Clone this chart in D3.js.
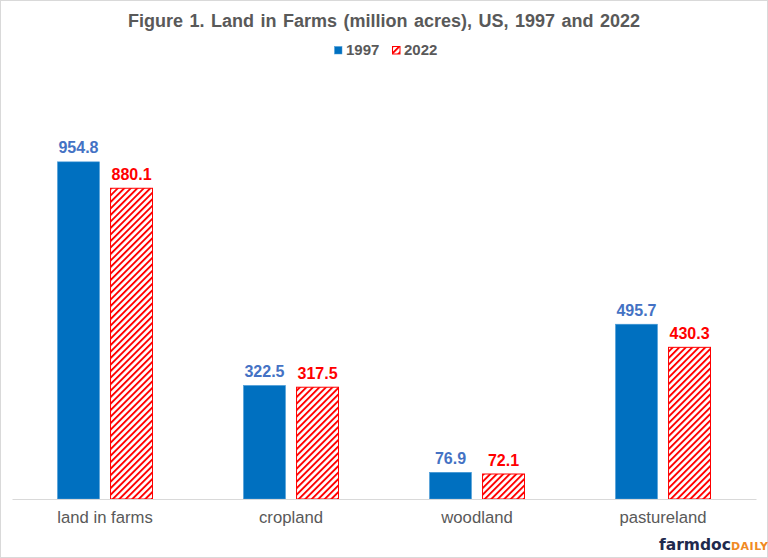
<!DOCTYPE html>
<html>
<head>
<meta charset="utf-8">
<script src="https://cdn.jsdelivr.net/npm/d3@7"></script>
<style>
  body { margin: 0; background: #fff; }
  svg { display: block; font-family: "Liberation Sans", Arial, sans-serif; }
</style>
</head>
<body>
<svg id="chart" width="768" height="558"></svg>
<script>
// data
const categories = ["land in farms", "cropland", "woodland", "pastureland"];
const seriesNames = ["1997", "2022"];
const values1997 = [954.8, 322.5, 76.9, 495.7];
const values2022 = [880.1, 317.5, 72.1, 430.3];

const W = 768, H = 558;
const svg = d3.select("#chart");

// outer frame
svg.append("rect")
  .attr("x", 0.5).attr("y", 0.5)
  .attr("width", W - 1).attr("height", H - 1)
  .attr("fill", "#fff").attr("stroke", "#d9d9d9");

// hatch pattern for 2022 (red diagonals on white)
const defs = svg.append("defs");
const pat = defs.append("pattern")
  .attr("id", "hatch")
  .attr("patternUnits", "userSpaceOnUse")
  .attr("width", 4.6).attr("height", 4.6)
  .attr("patternTransform", "rotate(45)");
pat.append("rect").attr("width", 4.6).attr("height", 4.6).attr("fill", "#fff");
pat.append("rect").attr("x", 0).attr("width", 1.9).attr("height", 4.6).attr("fill", "#ff0000");

const x0 = d3.scaleBand().domain(categories).range([12, 756]);
const x1 = d3.scaleBand().domain(seriesNames).range([45, 141]).paddingInner(0.19).paddingOuter(0);
const y = d3.scaleLinear().domain([0, 1100]).range([499, 110]);

const rows = categories.map((c, i) => ({ cat: c, vals: [values1997[i], values2022[i]] }));

const groups = svg.append("g").selectAll("g")
  .data(rows).join("g")
  .attr("transform", d => `translate(${x0(d.cat)},0)`);

const fills = ["#0070c0", "url(#hatch)"];
const strokes = ["#4a9bd8", "#ff0000"];
const labelColors = ["#4472c4", "#ff0000"];

groups.selectAll("rect")
  .data(d => d.vals.map((v, j) => ({ v, j })))
  .join("rect")
  .attr("x", d => x1(seriesNames[d.j]) + 0.5)
  .attr("y", d => y(d.v) + 0.5)
  .attr("width", x1.bandwidth() - 1)
  .attr("height", d => y(0) - y(d.v) - 0.5)
  .attr("fill", d => fills[d.j])
  .attr("stroke", d => strokes[d.j])
  .attr("stroke-width", d => d.j === 0 ? 0.6 : 1);

groups.selectAll("text.val")
  .data(d => d.vals.map((v, j) => ({ v, j })))
  .join("text")
  .attr("class", "val")
  .attr("x", d => x1(seriesNames[d.j]) + x1.bandwidth() / 2)
  .attr("y", d => y(d.v) - 8)
  .attr("text-anchor", "middle")
  .attr("font-size", 16)
  .attr("font-weight", "bold")
  .attr("fill", d => labelColors[d.j])
  .text(d => d.v.toFixed(1));

// x axis
const xAxis = svg.append("g")
  .attr("transform", `translate(0,${y(0)})`)
  .call(d3.axisBottom(x0).tickSize(0).tickPadding(12));
xAxis.select(".domain").attr("stroke", "#d9d9d9").attr("stroke-width", 1.2);
xAxis.selectAll("text")
  .attr("font-size", 16.7)
  .attr("font-family", "Liberation Sans, Arial, sans-serif")
  .attr("fill", "#595959");

// title
svg.append("text")
  .attr("x", 384).attr("y", 27)
  .attr("text-anchor", "middle")
  .attr("font-size", 18)
  .attr("font-weight", "bold")
  .attr("word-spacing", 1.5)
  .attr("fill", "#595959")
  .text("Figure  1. Land in Farms (million acres), US, 1997 and 2022");

// legend
const legend = svg.append("g").attr("transform", "translate(334,46)");
const legendX = [0, 58];
seriesNames.forEach((s, j) => {
  const g = legend.append("g").attr("transform", `translate(${legendX[j]},0)`);
  g.append("rect")
    .attr("x", 0.5).attr("y", 0.5).attr("width", 7.5).attr("height", 7.5)
    .attr("fill", fills[j]).attr("stroke", strokes[j]).attr("stroke-width", j === 0 ? 0.5 : 1);
  g.append("text")
    .attr("x", 12).attr("y", 8.5)
    .attr("font-size", 15)
    .attr("font-weight", "bold")
    .attr("fill", "#595959")
    .text(s);
});

// logo
const logo = svg.append("text")
  .attr("x", 659).attr("y", 550)
  .attr("font-family", "DejaVu Sans, sans-serif")
  .attr("font-weight", "bold");
logo.append("tspan").attr("font-size", 15.5).attr("fill", "#1f2a4d").text("farmdoc");
logo.append("tspan").attr("font-size", 11).attr("fill", "#f08a24").attr("letter-spacing", 0.5).text("DAILY");
</script>
</body>
</html>
